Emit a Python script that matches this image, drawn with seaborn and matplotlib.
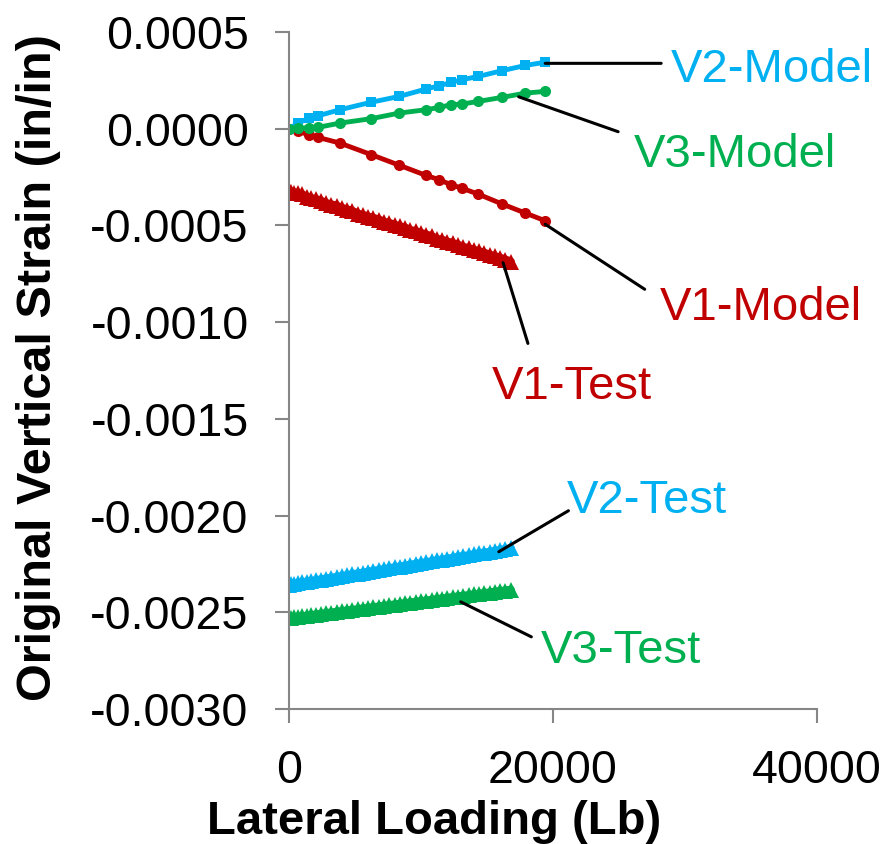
import numpy as np
import pandas as pd
import matplotlib
matplotlib.use("Agg")
import matplotlib.pyplot as plt
import seaborn as sns
from matplotlib.ticker import FuncFormatter

# Model (FE) results
load_model = [0, 700, 1500, 2200, 3850, 6230, 8360, 10370, 11380, 12260,
              13070, 14330, 16140, 17900, 19410]
v1_model = [0, -0.000014, -0.000031, -0.000045, -0.000074, -0.000134, -0.000189,
            -0.000241, -0.000264, -0.000289, -0.000307, -0.000338, -0.000389,
            -0.000436, -0.000476]
v2_model = [0, 0.000029, 0.000055, 0.000067, 0.000098, 0.000137, 0.000167,
            0.000205, 0.000222, 0.000239, 0.000253, 0.000270, 0.000300,
            0.000327, 0.000344]
v3_model = [0, 0.000005, 0.000003, 0.000007, 0.000029, 0.000052, 0.000081,
            0.000098, 0.000110, 0.000124, 0.000127, 0.000141, 0.000162,
            0.000184, 0.000193]

# Test results
load_test = [0, 150, 400, 700, 1000, 1350, 1700, 2050, 2400, 2800, 3200, 3600,
             4000, 4400, 4800, 5200, 5600, 6000, 6400, 6800, 7200, 7600, 8000,
             8400, 8800, 9200, 9600, 10000, 10400, 10800, 11200, 11600, 12000,
             12400, 12800, 13200, 13600, 14000, 14400, 14800, 15200, 15600,
             16000, 16400, 16800]
v1_test = [-0.000318, -0.000325, -0.000330, -0.000333, -0.000340, -0.000352,
           -0.000360, -0.000365, -0.000372, -0.000385, -0.000392, -0.000398,
           -0.000410, -0.000418, -0.000425, -0.000440, -0.000446, -0.000455,
           -0.000462, -0.000470, -0.000482, -0.000488, -0.000497, -0.000505,
           -0.000512, -0.000525, -0.000530, -0.000540, -0.000548, -0.000556,
           -0.000570, -0.000575, -0.000584, -0.000592, -0.000600, -0.000612,
           -0.000618, -0.000627, -0.000634, -0.000642, -0.000652, -0.000660,
           -0.000668, -0.000677, -0.000688]
v2_test = [-0.002358, -0.002355, -0.002352, -0.002348, -0.002345, -0.002342,
           -0.002338, -0.002335, -0.002331, -0.002326, -0.002322, -0.002318,
           -0.002313, -0.002309, -0.002304, -0.002300, -0.002296, -0.002291,
           -0.002286, -0.002282, -0.002278, -0.002273, -0.002268, -0.002264,
           -0.002260, -0.002255, -0.002250, -0.002246, -0.002242, -0.002237,
           -0.002232, -0.002228, -0.002224, -0.002219, -0.002214, -0.002210,
           -0.002206, -0.002201, -0.002196, -0.002192, -0.002188, -0.002183,
           -0.002178, -0.002174, -0.002170]
v3_test = [-0.002530, -0.002528, -0.002526, -0.002523, -0.002521, -0.002518,
           -0.002515, -0.002512, -0.002509, -0.002505, -0.002502, -0.002498,
           -0.002495, -0.002491, -0.002488, -0.002485, -0.002481, -0.002478,
           -0.002474, -0.002471, -0.002467, -0.002464, -0.002460, -0.002457,
           -0.002453, -0.002450, -0.002446, -0.002443, -0.002440, -0.002436,
           -0.002433, -0.002429, -0.002426, -0.002422, -0.002419, -0.002415,
           -0.002412, -0.002408, -0.002405, -0.002401, -0.002398, -0.002394,
           -0.002391, -0.002388, -0.002384]

x_ticks = [0, 20000, 40000]
y_ticks = [-0.0030, -0.0025, -0.0020, -0.0015, -0.0010, -0.0005, 0.0, 0.0005]

RED = "#C00000"
BLUE = "#00B0F0"
GREEN = "#00B050"

sns.set_style("white")
plt.rcParams["font.family"] = ["Liberation Sans", "DejaVu Sans"]
plt.rcParams["text.color"] = "black"
plt.rcParams["axes.labelcolor"] = "black"

fig = plt.figure(figsize=(8.88, 8.44), dpi=100)
ax = fig.add_axes([289 / 888, 1 - 709 / 844, 528 / 888, 677 / 844])

# test curves (dense triangles)
for y, col in [(v1_test, RED), (v2_test, BLUE), (v3_test, GREEN)]:
    sns.lineplot(x=load_test, y=y, ax=ax, color=col, marker="^", markersize=11,
                 markeredgewidth=0, linewidth=6)

# model curves
sns.lineplot(x=load_model, y=v1_model, ax=ax, color=RED, marker="o",
             markersize=8, markeredgewidth=0, linewidth=3.5)
sns.lineplot(x=load_model, y=v2_model, ax=ax, color=BLUE, marker="s",
             markersize=7.5, markeredgewidth=0, linewidth=3.5)
sns.lineplot(x=load_model, y=v3_model, ax=ax, color=GREEN, marker="o",
             markersize=8, markeredgewidth=0, linewidth=3.5)

ax.set_xlim(0, 40000)
ax.set_ylim(-0.0030, 0.0005)
ax.set_xticks(x_ticks)
ax.set_yticks(y_ticks)
ax.yaxis.set_major_formatter(FuncFormatter(lambda v, p: f"{v:.4f}"))
ax.xaxis.set_major_formatter(FuncFormatter(lambda v, p: f"{v:.0f}"))

for s in ["top", "right"]:
    ax.spines[s].set_visible(False)
for s in ["left", "bottom"]:
    ax.spines[s].set_color("#868686")
    ax.spines[s].set_linewidth(1.5)
ax.tick_params(axis="both", direction="out", length=10, width=1.5,
               color="#868686", labelsize=33.5, pad=19, labelcolor="black",
               left=True, bottom=True)
ax.grid(False)

ax.set_xlabel("Lateral Loading (Lb)", fontsize=34, fontweight="bold")
ax.set_ylabel("Original Vertical Strain (in/in)", fontsize=35, fontweight="bold")
ax.xaxis.set_label_coords(0.275, -0.134)
ax.yaxis.set_label_coords(-0.432, 0.505)

# leader lines + labels
labels = [
    ("V2-Model", BLUE, (19410, 0.000338), (28195, 0.000338), (28930, 0.000241)),
    ("V3-Model", GREEN, (17400, 0.000165), (24935, -0.0000155), (26140, -0.000198)),
    ("V1-Model", RED, (19410, -0.000494), (26945, -0.00083), (28075, -0.000989)),
    ("V1-Test", RED, (16220, -0.000693), (18100, -0.00111), (15345, -0.001398)),
    ("V2-Test", BLUE, (15895, -0.002187), (21170, -0.001975), (21020, -0.001987)),
    ("V3-Test", GREEN, (13010, -0.002446), (18360, -0.002627), (19040, -0.002763)),
]
for text, col, p0, p1, pt in labels:
    ax.annotate("", xy=p0, xytext=p1, annotation_clip=False,
                arrowprops=dict(arrowstyle="-", color="black", lw=2.2,
                                shrinkA=0, shrinkB=0))
    ax.text(pt[0], pt[1], text, color=col, fontsize=34, ha="left",
            va="baseline", clip_on=False)

fig.savefig("out.png", dpi=100)
